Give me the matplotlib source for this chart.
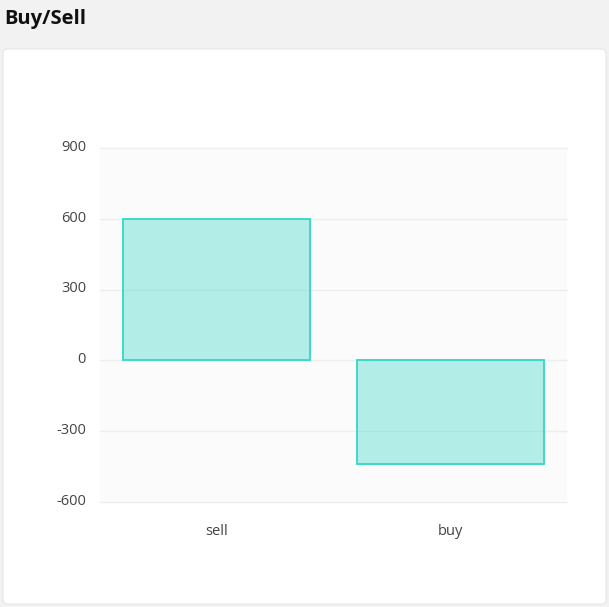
import matplotlib.pyplot as plt
import matplotlib.transforms as mtransforms
from matplotlib.patches import FancyBboxPatch

categories = ["sell", "buy"]
values = [600, -440]
y_ticks = [-600, -300, 0, 300, 600, 900]

plt.rcParams['font.family'] = ['Open Sans', 'DejaVu Sans']
plt.rcParams['axes.unicode_minus'] = False

W, H = 609, 607
fig = plt.figure(figsize=(W / 100, H / 100), dpi=100)
fig.patch.set_facecolor("#f2f2f2")

# white card behind the chart
card = FancyBboxPatch((3 / W, 1 - 604 / H), 603 / W, 555 / H,
                      boxstyle="round,pad=0,rounding_size=0.008",
                      transform=fig.transFigure, facecolor="white",
                      edgecolor="#e6e6e6", linewidth=0.8, zorder=-5)
fig.patches.append(card)

fig.text(4 / W, 1 - 24 / H, "Buy/Sell", fontsize=14.5, fontweight="bold",
         color="#111111", ha="left", va="baseline")

# plot area: x 100..567, y 148..502 in pixels
ax = fig.add_axes([100 / W, 1 - 502 / H, 467 / W, 354 / H])
ax.set_zorder(2)
ax.set_facecolor("#fbfbfb")

ax.bar(categories, values, width=0.8, color="#3fd8c8", alpha=0.38,
       zorder=3)
ax.bar(categories, values, width=0.8, facecolor="none",
       edgecolor="#3dd9c8", linewidth=1.4, zorder=4)

ax.set_xlim(-0.5, 1.5)
ax.set_ylim(-600, 900)
ax.set_yticks(y_ticks)
ax.grid(True, axis="y", color="#eeeeee", linewidth=1, zorder=0)
for gl in ax.get_ygridlines():
    gl.set_clip_on(False)
ax.set_axisbelow(True)
for s in ax.spines.values():
    s.set_visible(False)
ax.tick_params(axis="both", length=0, colors="#444444", labelsize=10.5)
ax.tick_params(axis="y", pad=10)
ax.tick_params(axis="x", pad=16)

# nudge y labels up a little, like the original
shift = mtransforms.ScaledTranslation(0, 2 / 72, fig.dpi_scale_trans)
for lbl in ax.get_yticklabels():
    lbl.set_transform(lbl.get_transform() + shift)

fig.savefig("out.png", dpi=100, facecolor=fig.get_facecolor())
